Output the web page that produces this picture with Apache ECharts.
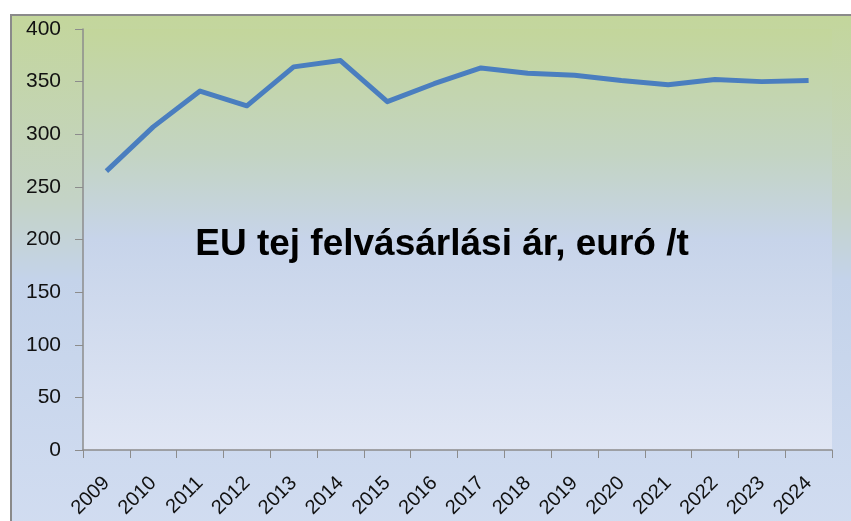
<!DOCTYPE html>
<html>
<head>
<meta charset="utf-8">
<script src="https://cdn.jsdelivr.net/npm/echarts@6/dist/echarts.min.js"></script>
<style>
  html, body { margin: 0; padding: 0; background: #fff; }
  #chart { width: 851px; height: 521px; }
</style>
</head>
<body>
<div id="chart"></div>
<script>
const years = ['2009', '2010', '2011', '2012', '2013', '2014', '2015', '2016',
  '2017', '2018', '2019', '2020', '2021', '2022', '2023', '2024']
const prices = [265, 307, 341, 327, 364, 370, 331, 348, 363, 358, 356, 351, 347, 352, 350, 351]
const chartTitle = 'EU tej felvásárlási ár, euró /t'

const chart = echarts.init(document.getElementById('chart'))

const option = {
  animation: false,
  graphic: [
    {
      type: 'rect',
      z: -10,
      shape: { x: 11, y: 15, width: 860, height: 530 },
      style: {
        fill: new echarts.graphic.LinearGradient(0, 0, 0, 1, [
          { offset: 0, color: '#c3d69b' },
          { offset: 0.35, color: '#c4d3c6' },
          { offset: 0.5, color: '#c4d3ea' },
          { offset: 1, color: '#d2ddf1' }
        ]),
        stroke: '#8a8a8a',
        lineWidth: 2
      }
    },
    {
      type: 'text',
      x: 442,
      y: 245,
      z: 10,
      style: {
        text: chartTitle,
        font: 'bold 37px "Liberation Sans", Arial, sans-serif',
        fill: '#000',
        align: 'center',
        verticalAlign: 'middle'
      }
    }
  ],
  grid: {
    left: 83,
    right: 19,
    top: 29,
    bottom: 71,
    show: true,
    borderWidth: 0,
    backgroundColor: new echarts.graphic.LinearGradient(0, 0, 0, 1, [
      { offset: 0, color: '#c3d69b' },
      { offset: 0.3, color: '#c3d4c3' },
      { offset: 0.5, color: '#c7d4ea' },
      { offset: 1, color: '#e0e6f4' }
    ])
  },
  xAxis: {
    type: 'category',
    data: years,
    boundaryGap: true,
    axisLine: { lineStyle: { color: '#8c8c8c', width: 1.5 } },
    axisTick: { show: true, length: 8, lineStyle: { color: '#8c8c8c' } },
    axisLabel: {
      rotate: 45,
      margin: 30,
      fontSize: 20,
      color: '#111',
      fontFamily: '"Liberation Sans", Arial, sans-serif',
      interval: 0
    },
    splitLine: { show: false }
  },
  yAxis: {
    type: 'value',
    min: 0,
    max: 400,
    interval: 50,
    axisLine: { show: true, lineStyle: { color: '#8c8c8c', width: 1.5 } },
    axisTick: { show: true, length: 8, lineStyle: { color: '#8c8c8c' } },
    axisLabel: {
      margin: 22,
      fontSize: 21,
      color: '#111',
      fontFamily: '"Liberation Sans", Arial, sans-serif'
    },
    splitLine: { show: false }
  },
  series: [
    {
      type: 'line',
      data: prices,
      showSymbol: false,
      symbol: 'none',
      lineStyle: { color: '#4a7ebf', width: 5, join: 'round' }
    }
  ]
}

chart.setOption(option)
</script>
</body>
</html>
